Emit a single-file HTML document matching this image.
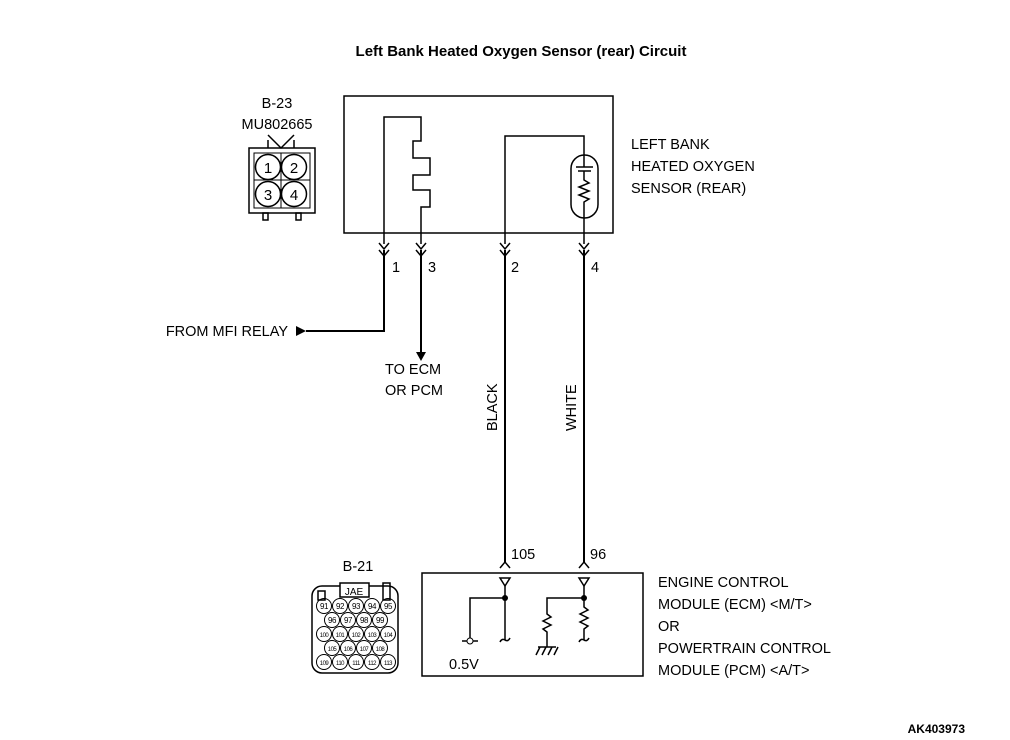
<!DOCTYPE html>
<html><head><style>body{margin:0;background:#fff}svg{display:block}text{font-family:"Liberation Sans",sans-serif;fill:#000}</style></head><body>
<svg width="1010" height="740" viewBox="0 0 1010 740" xmlns="http://www.w3.org/2000/svg">
<text x="521" y="56" font-size="15" font-weight="bold" text-anchor="middle">Left Bank Heated Oxygen Sensor (rear) Circuit</text>
<g fill="none" stroke="#000" stroke-width="1.5">
<rect x="344" y="96" width="269" height="137"/>
<polyline points="384,244 384,117 421,117 421,141 413,141 413,158 430,158 430,175 413,175 413,190 430,190 430,207 421,207 421,244"/>
<polyline points="505,244 505,136 584,136 584,156"/>
<rect x="571" y="155" width="27" height="63" rx="13.5"/>
<line x1="576" y1="167" x2="593" y2="167"/><line x1="578" y1="171" x2="591" y2="171"/>
<line x1="584" y1="156" x2="584" y2="167"/>
<polyline points="584,171 584,180 589,183 579,187 589,191 579,195 589,199 584,202 584,244"/>
<polyline points="379,243 384,249 389,243"/><polyline points="379,250 384,256 389,250"/>
<polyline points="416,243 421,249 426,243"/><polyline points="416,250 421,256 426,250"/>
<polyline points="500,243 505,249 510,243"/><polyline points="500,250 505,256 510,250"/>
<polyline points="579,243 584,249 589,243"/><polyline points="579,250 584,256 589,250"/>
</g>
<g fill="none" stroke="#000" stroke-width="2">
<polyline points="384,250 384,331 306,331"/>
<line x1="421" y1="250" x2="421" y2="352"/>
<line x1="505" y1="250" x2="505" y2="562"/>
<line x1="584" y1="250" x2="584" y2="562"/>
</g>
<polygon points="296,326 306,331 296,336"/>
<polygon points="416,352 426,352 421,361"/>
<g font-size="14.5">
<text x="392" y="272">1</text><text x="428" y="272">3</text><text x="511" y="272">2</text><text x="591" y="272">4</text>
<text x="288" y="336" text-anchor="end">FROM MFI RELAY</text>
<text x="385" y="374">TO ECM</text><text x="385" y="395">OR PCM</text>
<text transform="translate(497,431) rotate(-90)">BLACK</text>
<text transform="translate(576,431) rotate(-90)">WHITE</text>
<text x="631" y="149">LEFT BANK</text><text x="631" y="171">HEATED OXYGEN</text><text x="631" y="193">SENSOR (REAR)</text>
<text x="277" y="108" text-anchor="middle">B-23</text><text x="277" y="129" text-anchor="middle">MU802665</text>
<text x="511" y="559">105</text><text x="590" y="559">96</text>
<text x="358" y="571" text-anchor="middle">B-21</text>
<text x="658" y="587">ENGINE CONTROL</text><text x="658" y="609">MODULE (ECM) &lt;M/T&gt;</text><text x="658" y="631">OR</text><text x="658" y="653">POWERTRAIN CONTROL</text><text x="658" y="675">MODULE (PCM) &lt;A/T&gt;</text>
<text x="449" y="669">0.5V</text>
</g>
<text x="965" y="733" font-size="12" font-weight="bold" text-anchor="end">AK403973</text>
<g fill="none" stroke="#000" stroke-width="1.5">
<polyline points="268,135 281,148 294,135"/><polyline points="268,148 268,140 M294,148"/>
<line x1="294" y1="140" x2="294" y2="148"/>
<rect x="249" y="148" width="66" height="65"/>
<rect x="254" y="153" width="56" height="55" stroke-width="1"/>
<line x1="281" y1="153" x2="281" y2="208" stroke-width="1"/><line x1="254" y1="180" x2="310" y2="180" stroke-width="1"/>
<circle cx="268" cy="167" r="12.5"/><circle cx="294" cy="167" r="12.5"/><circle cx="268" cy="194" r="12.5"/><circle cx="294" cy="194" r="12.5"/>
<rect x="263" y="213" width="5" height="7"/><rect x="296" y="213" width="5" height="7"/>
<rect x="312" y="586" width="86" height="87" rx="10"/>
<rect x="340" y="583" width="29" height="14" fill="#fff"/>
<rect x="318" y="591" width="7" height="9"/><rect x="383" y="583" width="7" height="17"/>
<rect x="422" y="573" width="221" height="103"/>
<polyline points="500,568 505,562 510,568"/><polyline points="579,568 584,562 589,568"/>
<polygon points="500,578 510,578 505,586"/><polygon points="579,578 589,578 584,586"/>
<polyline points="505,586 505,640"/><path d="M500,642 q2,-4 5,-2 q3,2 5,-2"/>
<polyline points="505,598 470,598 470,640"/><line x1="462" y1="641" x2="478" y2="641"/>
<polyline points="584,586 584,607 588,610 580,614 588,618 580,622 588,626 584,629 584,640"/><path d="M579,642 q2,-4 5,-2 q3,2 5,-2"/>
<polyline points="584,598 547,598 547,614 551,617 543,621 551,625 543,629 547,632 547,647"/>
<line x1="538" y1="647" x2="556" y2="647"/>
<path d="M540,647 l-4,8 M546,647 l-4,8 M552,647 l-4,8 M558,647 l-4,8"/>
</g>
<circle cx="470" cy="641" r="3" fill="#fff" stroke="#000"/>
<circle cx="505" cy="598" r="3" fill="#000"/><circle cx="584" cy="598" r="3" fill="#000"/>
<g font-size="10" text-anchor="middle"><text x="354" y="595" font-family="Liberation Serif">JAE</text></g>
<g fill="none" stroke="#000" stroke-width="1">
<circle cx="324" cy="606" r="7.5"/><circle cx="340" cy="606" r="7.5"/><circle cx="356" cy="606" r="7.5"/><circle cx="372" cy="606" r="7.5"/><circle cx="388" cy="606" r="7.5"/>
<circle cx="332" cy="620" r="7.5"/><circle cx="348" cy="620" r="7.5"/><circle cx="364" cy="620" r="7.5"/><circle cx="380" cy="620" r="7.5"/>
<circle cx="324" cy="634" r="7.5"/><circle cx="340" cy="634" r="7.5"/><circle cx="356" cy="634" r="7.5"/><circle cx="372" cy="634" r="7.5"/><circle cx="388" cy="634" r="7.5"/>
<circle cx="332" cy="648" r="7.5"/><circle cx="348" cy="648" r="7.5"/><circle cx="364" cy="648" r="7.5"/><circle cx="380" cy="648" r="7.5"/>
<circle cx="324" cy="662" r="7.5"/><circle cx="340" cy="662" r="7.5"/><circle cx="356" cy="662" r="7.5"/><circle cx="372" cy="662" r="7.5"/><circle cx="388" cy="662" r="7.5"/>
</g>
<g font-size="8" text-anchor="middle" letter-spacing="-0.5">
<text x="324" y="609">91</text><text x="340" y="609">92</text><text x="356" y="609">93</text><text x="372" y="609">94</text><text x="388" y="609">95</text>
<text x="332" y="623">96</text><text x="348" y="623">97</text><text x="364" y="623">98</text><text x="380" y="623">99</text>
<text x="324" y="637" font-size="6">100</text><text x="340" y="637" font-size="6">101</text><text x="356" y="637" font-size="6">102</text><text x="372" y="637" font-size="6">103</text><text x="388" y="637" font-size="6">104</text>
<text x="332" y="651" font-size="6">105</text><text x="348" y="651" font-size="6">106</text><text x="364" y="651" font-size="6">107</text><text x="380" y="651" font-size="6">108</text>
<text x="324" y="665" font-size="6">109</text><text x="340" y="665" font-size="6">110</text><text x="356" y="665" font-size="6">111</text><text x="372" y="665" font-size="6">112</text><text x="388" y="665" font-size="6">113</text>
</g>
<g font-size="15" text-anchor="middle">
<text x="268" y="173">1</text><text x="294" y="173">2</text><text x="268" y="200">3</text><text x="294" y="200">4</text>
</g>
</svg>
</body></html>
